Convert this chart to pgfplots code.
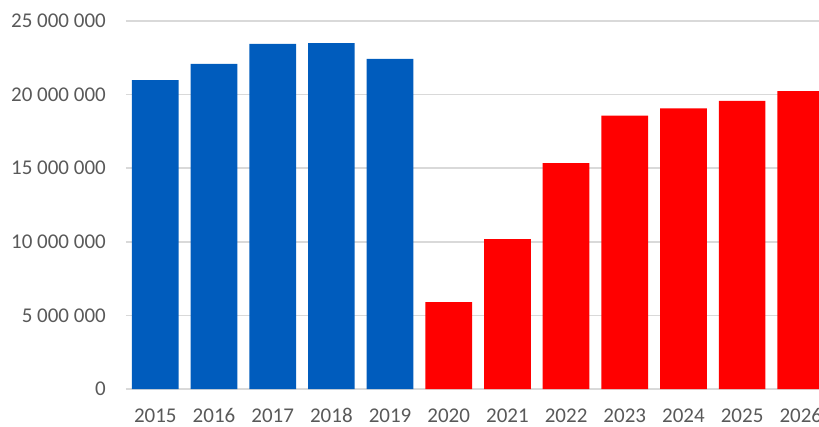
\documentclass[border=0pt]{standalone}
\usepackage{fontspec}
\setmainfont{Carlito}
\usepackage{pgfplots}
\pgfplotsset{compat=1.18}
\definecolor{barblue}{RGB}{0,92,189}
\definecolor{barred}{RGB}{255,0,0}
\definecolor{gridgray}{RGB}{217,217,217}
\definecolor{labgray}{RGB}{89,89,89}
\begin{document}
\begin{tikzpicture}[x=1pt,y=1pt]
\begin{axis}[
  at={(126pt,37pt)}, anchor=south west,
  scale only axis,
  width=693pt, height=368pt,
  ybar, bar width=46.7pt, bar shift=0pt,
  xmin=-0.5, xmax=11.31,
  ymin=0, ymax=25000000,
  ytick={0,5000000,10000000,15000000,20000000,25000000},
  yticklabels={0,5 000 000,10 000 000,15 000 000,20 000 000,25 000 000},
  xtick={0,...,11},
  xticklabels={2015,2016,2017,2018,2019,2020,2021,2022,2023,2024,2025,2026},
  scaled y ticks=false,
  major tick length=0pt,
  axis line style={draw=none},
  ymajorgrids,
  grid style={gridgray, line width=1.5pt},
  tick label style={font=\fontsize{21}{24}\selectfont, text=labgray, inner sep=0pt},
  yticklabel style={anchor=east, xshift=-20pt},
  xticklabel style={anchor=base, yshift=-33pt},
  clip=true,
]
\addplot[fill=barblue, draw=none] coordinates {(0,20990000) (1,22080000) (2,23440000) (3,23500000) (4,22420000)};
\addplot[fill=barred, draw=none] coordinates {(5,5910000) (6,10190000) (7,15350000) (8,18570000) (9,19070000) (10,19570000) (11,20240000)};
\end{axis}
\pgfresetboundingbox
\path[use as bounding box] (0,0) rectangle (819pt,426pt);
\end{tikzpicture}
\end{document}
